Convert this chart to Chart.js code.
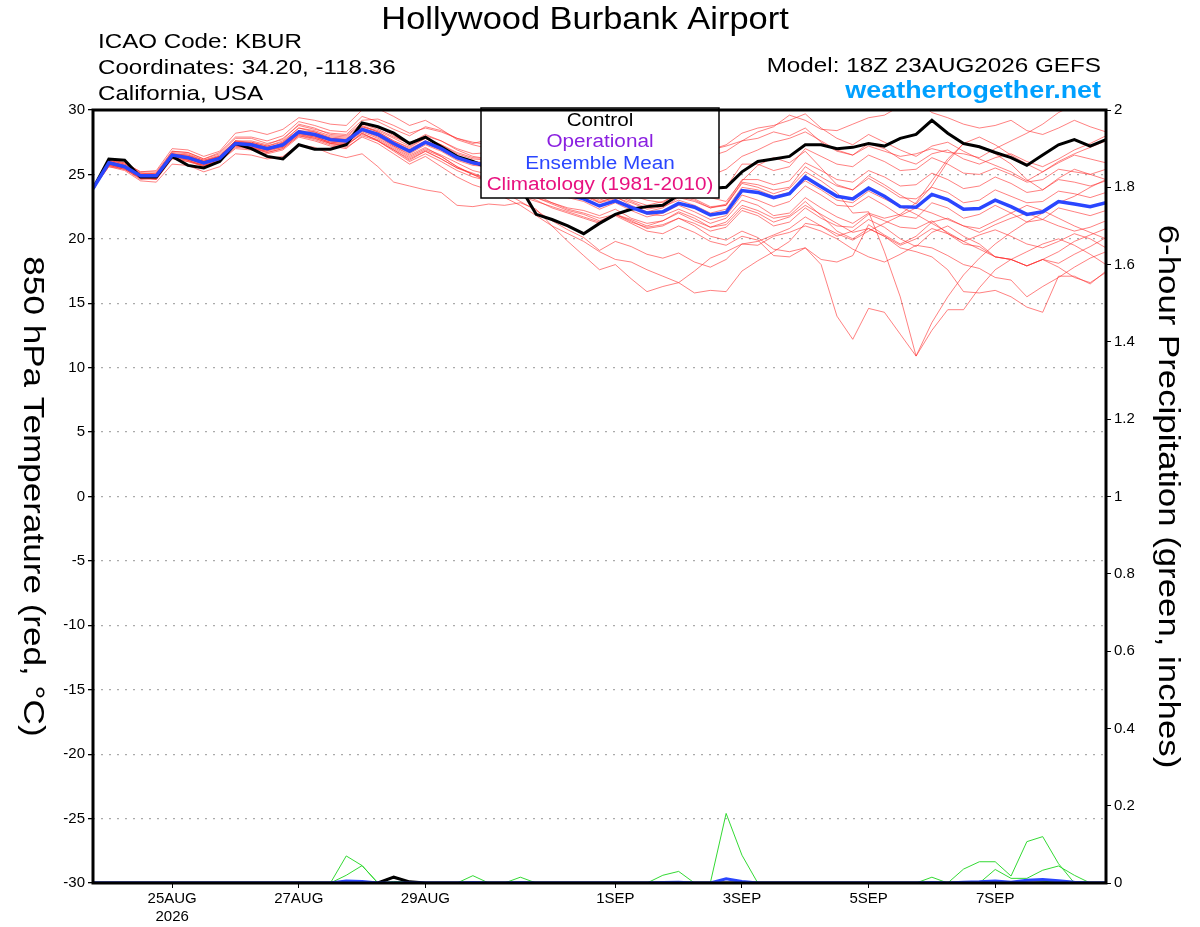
<!DOCTYPE html>
<html>
<head>
<meta charset="utf-8">
<title>Hollywood Burbank Airport - GEFS</title>
<script src="https://cdn.jsdelivr.net/npm/chart.js@4.4.1/dist/chart.umd.min.js"></script>
<style>
  body { margin: 0; background: #fff; }
  canvas { display: block; }
</style>
</head>
<body>
<canvas id="gefsChart" width="1200" height="927"></canvas>
<script>
// forecast hours from 18Z 23AUG2026
const fcstHours = [0, 6, 12, 18, 24, 30, 36, 42, 48, 54, 60, 66, 72, 78, 84, 90, 96, 102, 108, 114,
  120, 126, 132, 138, 144, 150, 156, 162, 168, 174, 180, 186, 192, 198, 204, 210, 216, 222, 228, 234,
  240, 246, 252, 258, 264, 270, 276, 282, 288, 294, 300, 306, 312, 318, 324, 330, 336, 342, 348, 354,
  360, 366, 372, 378, 384];

const tickHours = [30, 78, 126, 198, 246, 294, 342];
const tickLabels = [["25AUG", "2026"], "27AUG", "29AUG", "1SEP", "3SEP", "5SEP", "7SEP"];

// 850 hPa temperature (C)
const controlTemp = [23.9, 26.2, 26.1, 24.8, 24.8, 26.4, 25.7, 25.5, 26.0, 27.4,
  27.0, 26.4, 26.2, 27.3, 26.95, 26.95, 27.3, 29.0, 28.7, 28.2,
  27.4, 27.9, 27.15, 26.4, 26.0, 25.5, 24.8, 24.0, 21.9, 21.5,
  21.0, 20.4, 21.2, 21.9, 22.3, 22.5, 22.6, 23.4, 23.7, 23.9,
  24.0, 25.2, 26.0, 26.2, 26.4, 27.3, 27.3, 27.0, 27.1, 27.4,
  27.2, 27.8, 28.1, 29.2, 28.2, 27.4, 27.15, 26.7, 26.3, 25.7,
  26.5, 27.3, 27.7, 27.2, 27.7];

const meanTemp = [23.9, 25.9, 25.6, 24.9, 24.9, 26.5, 26.3, 25.9, 26.25, 27.4,
  27.3, 27.0, 27.3, 28.3, 28.1, 27.7, 27.6, 28.5, 28.1, 27.4,
  26.8, 27.5, 27.0, 26.3, 25.9, 25.7, 25.1, 24.6, 24.1, 23.7,
  23.4, 23.1, 22.55, 22.95, 22.45, 22.0, 22.1, 22.75, 22.45, 21.85,
  22.05, 23.75, 23.6, 23.2, 23.5, 24.8, 24.05, 23.3, 23.1, 23.95,
  23.3, 22.5, 22.45, 23.45, 23.05, 22.3, 22.35, 23.0, 22.5, 21.9,
  22.1, 22.9, 22.7, 22.5, 22.8];

const mem01 = [23.9, 25.7, 25.4, 24.6, 24.7, 26.6, 26.1, 25.6, 26.1, 27.5,
  27.1, 26.8, 27.5, 28.4, 28.0, 27.4, 27.2, 28.2, 27.6, 26.9,
  26.1, 26.8, 26.2, 25.5, 25.1, 24.6, 24.0, 23.5, 23.0, 22.4,
  22.0, 21.6, 21.2, 21.8, 21.2, 20.6, 20.4, 21.0, 20.5, 19.8,
  19.5, 20.2, 19.9, 18.7, 18.6, 19.3, 18.0, 14.0, 12.2, 14.6,
  14.3, 12.6, 10.9, 12.9, 14.5, 14.5, 16.2, 17.6, 18.4, 19.0,
  19.6, 20.0, 19.5, 18.8, 18.0];
const mem02 = [23.9, 26.1, 25.8, 25.1, 25.0, 26.8, 26.7, 26.2, 26.6, 27.8,
  27.8, 27.4, 27.7, 28.9, 28.6, 28.1, 28.0, 29.0, 28.7, 28.0,
  27.4, 28.1, 27.6, 26.9, 26.4, 26.2, 25.9, 25.2, 24.7, 24.3,
  24.0, 23.8, 23.2, 23.6, 23.0, 22.6, 22.9, 23.5, 23.1, 22.5,
  22.6, 24.3, 24.0, 23.5, 23.9, 25.2, 24.5, 23.6, 22.0, 22.1,
  19.0, 15.5, 10.9, 13.5, 15.5, 17.2, 18.5, 19.6, 20.5, 21.3,
  22.0, 22.8, 23.3, 24.0, 24.6];
const mem03 = [23.9, 25.6, 25.3, 24.5, 24.4, 25.8, 25.7, 25.2, 25.6, 26.6,
  26.5, 26.2, 26.4, 27.3, 27.1, 26.6, 26.3, 26.6, 25.6, 24.4,
  24.1, 23.8, 23.6, 22.6, 22.5, 22.7, 22.6, 22.8, 22.3, 21.0,
  19.8, 18.7, 17.6, 18.0, 16.9, 15.9, 16.3, 16.6, 17.5, 18.5,
  19.0, 19.6, 19.5, 20.2, 20.5, 21.0, 20.6, 20.0, 19.2, 18.6,
  18.2, 18.8, 19.5, 19.3, 18.7, 18.0, 17.7, 17.0, 16.8, 15.5,
  16.3, 17.0, 17.8, 18.5, 19.0];
const mem04 = [23.9, 25.8, 25.5, 24.8, 24.6, 26.3, 26.0, 25.7, 26.0, 27.1,
  27.0, 26.7, 27.0, 28.0, 27.7, 27.3, 27.1, 27.9, 27.4, 26.6,
  25.8, 26.4, 25.6, 24.8, 24.2, 23.8, 23.2, 22.6, 21.8, 21.0,
  20.4, 19.8, 19.0, 18.4, 18.2, 17.6, 17.1, 16.6, 15.8, 16.0,
  15.9, 17.5, 18.3, 19.0, 19.8, 21.2, 21.0, 20.2, 20.6, 21.5,
  20.9, 20.0, 19.4, 20.5, 21.0, 20.2, 19.6, 18.6, 18.4, 17.9,
  18.4, 17.8, 17.0, 16.6, 17.4];
const mem05 = [23.9, 26.0, 25.7, 25.0, 25.1, 26.7, 26.6, 26.1, 26.5, 27.6,
  27.6, 27.3, 27.8, 28.8, 28.5, 28.2, 28.1, 29.2, 29.3, 28.8,
  28.2, 28.6, 28.3, 27.8, 27.4, 27.7, 27.5, 27.0, 26.8, 26.3,
  26.0, 25.7, 25.4, 25.8, 25.5, 25.2, 25.6, 26.2, 26.7, 26.9,
  27.2, 27.6, 28.3, 28.7, 29.6, 29.2, 28.5, 28.4, 28.9, 29.4,
  29.6, 30.3, 30.8, 29.8, 29.4, 28.9, 28.6, 28.8, 29.2, 28.4,
  28.1, 28.6, 29.2, 28.7, 28.3];
const mem06 = [23.9, 25.9, 25.6, 24.9, 25.0, 26.4, 26.3, 26.0, 26.3, 27.3,
  27.5, 27.2, 27.5, 28.6, 28.4, 28.0, 27.9, 28.9, 28.5, 27.9,
  27.4, 28.0, 27.6, 27.0, 26.6, 26.7, 26.4, 26.0, 25.6, 25.4,
  25.0, 24.8, 24.2, 24.6, 24.4, 24.1, 24.5, 25.6, 26.0, 26.4,
  26.8, 27.6, 27.8, 28.3, 28.0, 28.6, 27.5, 26.8, 26.5, 27.2,
  26.8, 26.4, 26.6, 27.0, 26.7, 26.6, 26.3, 27.0, 27.6, 28.2,
  28.9, 29.8, 30.4, 30.8, 31.0];
const mem07 = [23.9, 26.2, 25.9, 25.2, 25.3, 27.0, 26.9, 26.4, 26.8, 28.2,
  28.4, 28.1, 28.5, 29.4, 29.2, 28.9, 28.8, 30.0, 30.1, 29.5,
  28.8, 29.2, 28.5, 27.7, 27.3, 27.0, 26.6, 26.0, 25.3, 24.9,
  24.6, 24.2, 23.7, 24.1, 23.4, 23.0, 22.8, 23.6, 23.9, 23.2,
  22.9, 24.5, 25.7, 26.3, 25.9, 26.8, 25.5, 24.2, 23.8, 24.9,
  24.2, 23.4, 22.7, 24.1, 26.0, 27.4, 27.2, 26.6, 25.8, 24.6,
  23.8, 24.7, 25.4, 25.0, 24.6];
const mem08 = [23.9, 25.8, 25.5, 24.8, 24.9, 26.5, 26.2, 25.8, 26.2, 27.3,
  27.2, 26.9, 27.2, 28.2, 27.9, 27.5, 27.4, 28.3, 27.8, 27.1,
  26.4, 27.0, 26.5, 25.9, 25.3, 25.0, 24.6, 24.0, 23.4, 22.8,
  22.3, 22.0, 21.6, 21.9, 21.3, 20.9, 21.1, 21.6, 21.0, 20.2,
  19.9, 20.6, 20.1, 19.2, 19.0, 19.3, 18.4, 18.2, 18.7, 21.1,
  20.3, 19.6, 20.2, 21.3, 21.6, 21.0, 20.5, 21.1, 21.6, 22.0,
  21.5, 21.0, 20.6, 20.9, 21.4];
const mem09 = [23.9, 25.6, 25.4, 24.7, 24.6, 26.2, 26.0, 25.6, 26.0, 27.0,
  26.9, 26.6, 26.9, 27.9, 27.6, 27.2, 27.0, 28.0, 27.6, 26.8,
  26.0, 26.6, 26.0, 25.3, 24.8, 24.5, 24.0, 23.6, 23.2, 22.8,
  22.4, 22.2, 21.8, 22.3, 21.6, 21.2, 21.4, 22.1, 21.6, 20.9,
  21.1, 22.4, 22.0, 21.3, 21.7, 22.6, 21.9, 21.2, 20.5, 20.8,
  20.2, 19.3, 19.0, 18.6, 17.6, 15.9, 15.8, 16.0, 15.5, 14.7,
  14.3, 17.1, 17.1, 16.5, 17.5];
const mem10 = [23.9, 26.0, 25.7, 25.0, 24.9, 26.4, 26.4, 26.0, 26.4, 27.5,
  27.4, 27.1, 27.4, 28.4, 28.3, 27.8, 27.7, 28.6, 28.2, 27.5,
  26.9, 27.6, 27.1, 26.4, 26.0, 25.8, 25.4, 24.9, 24.4, 24.0,
  23.7, 23.4, 22.9, 23.2, 22.8, 22.3, 22.5, 23.0, 22.6, 22.0,
  22.3, 24.0, 23.8, 23.3, 23.6, 24.5, 23.8, 23.0, 22.8, 23.7,
  23.1, 22.5, 21.9, 21.2, 20.5, 19.8, 19.2, 18.6, 18.4, 17.9,
  18.4, 19.0, 19.8, 20.3, 20.8];
const mem11 = [23.9, 25.9, 25.6, 25.0, 24.8, 26.6, 26.4, 26.0, 26.4, 27.6,
  27.4, 27.1, 27.2, 28.2, 28.0, 27.7, 27.6, 28.6, 28.0, 27.2,
  26.6, 27.3, 26.8, 26.1, 25.7, 25.6, 25.1, 24.6, 24.3, 23.9,
  23.6, 23.3, 22.8, 23.3, 22.6, 22.1, 22.4, 23.2, 22.9, 22.4,
  22.6, 24.4, 24.2, 23.8, 24.0, 25.6, 24.8, 24.1, 23.8, 24.7,
  24.0, 23.2, 23.1, 24.0, 23.6, 22.8, 23.0, 23.8, 23.3, 22.8,
  22.9, 23.7, 23.5, 23.2, 23.6];
const mem12 = [23.9, 26.1, 25.8, 25.1, 25.1, 26.6, 26.5, 26.1, 26.4, 27.6,
  27.5, 27.2, 27.6, 28.6, 28.3, 27.9, 27.8, 28.7, 28.4, 27.8,
  27.2, 27.8, 27.3, 26.6, 26.2, 26.1, 25.8, 25.4, 25.0, 24.7,
  24.3, 24.1, 23.6, 24.0, 23.6, 23.2, 23.5, 24.2, 24.6, 24.9,
  25.4, 26.4, 26.9, 27.5, 27.8, 28.3, 27.6, 26.9, 26.5, 27.4,
  27.0, 26.2, 25.8, 26.6, 26.9, 26.2, 25.8, 26.3, 26.6, 26.0,
  25.6, 26.2, 26.9, 27.4, 28.0];
const mem13 = [23.9, 25.7, 25.4, 24.7, 24.8, 26.3, 26.1, 25.7, 26.1, 27.2,
  27.1, 26.7, 27.0, 28.0, 27.8, 27.4, 27.3, 28.1, 27.7, 27.0,
  26.3, 26.9, 26.4, 25.6, 25.0, 24.5, 23.9, 23.3, 22.9, 22.5,
  22.1, 21.7, 21.3, 21.9, 21.5, 21.0, 21.4, 22.0, 21.4, 20.9,
  21.3, 22.6, 22.2, 21.6, 21.8, 22.9, 21.8, 20.6, 20.0, 20.8,
  20.2, 19.5, 20.0, 20.8, 20.4, 19.8, 20.3, 20.7, 20.2, 19.6,
  19.3, 19.8, 20.4, 20.0, 19.3];
const mem14 = [23.9, 25.8, 25.6, 24.8, 24.7, 26.4, 26.2, 25.8, 26.2, 27.3,
  27.1, 26.9, 27.1, 28.1, 27.9, 27.5, 27.4, 28.4, 27.9, 27.2,
  26.5, 27.1, 26.4, 25.6, 25.0, 24.4, 23.6, 22.9, 22.2, 21.4,
  20.7, 20.1, 19.1, 19.8, 19.4, 18.8, 18.5, 18.9, 18.2, 17.8,
  18.4, 19.6, 19.8, 20.3, 20.8, 21.7, 21.0, 20.4, 19.9, 20.6,
  21.2, 21.8, 22.4, 22.0, 21.5, 21.0, 20.8, 21.4, 22.0, 22.6,
  22.2, 21.6, 21.0, 20.5, 20.0];
const mem15 = [23.9, 26.0, 25.7, 25.0, 25.0, 26.5, 26.4, 26.0, 26.3, 27.5,
  27.4, 27.1, 27.3, 28.3, 28.2, 27.8, 27.7, 28.8, 28.3, 27.6,
  27.0, 27.6, 27.1, 26.4, 25.9, 25.7, 25.3, 24.9, 24.6, 24.2,
  23.9, 23.6, 23.0, 23.4, 22.9, 22.4, 22.6, 23.3, 23.0, 22.4,
  22.7, 24.6, 24.6, 24.2, 24.5, 25.9, 25.3, 24.6, 24.4, 25.3,
  24.8, 24.1, 24.2, 25.1, 24.6, 23.9, 24.1, 24.8, 24.3, 23.6,
  23.8, 24.6, 24.4, 24.1, 24.5];
const mem16 = [23.9, 26.1, 25.9, 25.2, 25.2, 26.8, 26.7, 26.2, 26.7, 27.9,
  27.9, 27.6, 28.0, 29.1, 28.8, 28.4, 28.3, 29.5, 29.1, 28.5,
  28.0, 28.7, 28.4, 27.8, 27.5, 27.3, 26.9, 26.4, 26.0, 25.6,
  25.2, 24.8, 24.3, 24.8, 24.2, 23.8, 24.1, 24.8, 24.4, 23.8,
  24.0, 25.8, 25.8, 25.3, 25.6, 27.0, 26.4, 25.8, 25.6, 26.5,
  26.0, 25.3, 25.4, 26.3, 25.8, 25.1, 25.0, 25.5, 25.0, 24.4,
  24.6, 25.4, 25.2, 25.0, 25.4];
const mem17 = [23.9, 25.9, 25.6, 24.9, 24.9, 26.5, 26.3, 25.9, 26.2, 27.4,
  27.3, 27.0, 27.3, 28.3, 28.1, 27.6, 27.5, 28.5, 28.1, 27.5,
  26.9, 27.5, 27.0, 26.4, 26.0, 25.9, 25.6, 25.2, 24.9, 24.6,
  24.4, 24.2, 23.9, 24.4, 24.6, 24.9, 25.4, 26.3, 26.9, 26.9,
  27.3, 28.2, 28.6, 28.8, 29.2, 29.7, 28.6, 27.8, 27.3, 28.1,
  27.5, 26.9, 26.4, 27.2, 27.5, 26.8, 26.2, 25.7, 25.2, 24.5,
  25.2, 26.0, 26.6, 27.1, 27.6];
const mem18 = [23.9, 25.8, 25.5, 24.8, 24.9, 26.4, 26.2, 25.8, 26.2, 27.3,
  27.2, 26.9, 27.2, 28.2, 28.0, 27.6, 27.5, 28.4, 28.0, 27.3,
  26.7, 27.4, 26.9, 26.2, 25.8, 25.5, 25.0, 24.5, 24.0, 23.6,
  23.2, 22.9, 22.3, 22.8, 22.2, 21.7, 22.0, 22.6, 22.1, 21.5,
  21.8, 23.4, 23.0, 22.5, 22.9, 24.1, 23.4, 22.6, 22.5, 23.3,
  22.6, 21.8, 21.6, 22.8, 22.4, 21.6, 21.9, 22.6, 22.0, 21.3,
  21.5, 22.4, 22.1, 21.8, 22.2];
const mem19 = [23.9, 26.0, 25.7, 25.0, 24.9, 26.6, 26.5, 26.0, 26.4, 27.5,
  27.3, 27.0, 27.4, 28.4, 28.1, 27.8, 27.7, 28.7, 28.3, 27.6,
  27.1, 27.8, 27.3, 26.7, 26.3, 26.2, 25.9, 25.5, 25.0, 24.4,
  23.9, 23.5, 22.8, 23.1, 22.5, 21.9, 21.8, 22.3, 21.8, 21.2,
  21.6, 23.0, 22.6, 21.8, 22.0, 23.2, 22.4, 21.7, 21.2, 22.0,
  21.6, 21.9, 22.8, 24.5, 26.2, 27.4, 27.9, 27.3, 26.5, 25.8,
  25.2, 25.9, 26.5, 26.2, 25.9];
const mem20 = [23.9, 25.7, 25.5, 24.7, 24.7, 26.4, 26.1, 25.7, 26.1, 27.2,
  27.0, 26.8, 27.1, 28.1, 27.8, 27.4, 27.3, 28.2, 27.6, 26.9,
  26.2, 26.8, 26.2, 25.5, 25.0, 24.7, 24.2, 23.7, 23.2, 22.7,
  22.2, 21.9, 21.4, 21.9, 21.4, 20.8, 21.0, 21.6, 21.2, 20.6,
  20.9, 22.2, 21.8, 21.0, 21.3, 22.4, 21.6, 21.0, 20.9, 21.9,
  21.4, 20.9, 20.8, 21.4, 20.4, 19.6, 19.4, 18.6, 18.4, 17.9,
  18.4, 18.1, 18.8, 19.4, 20.1];

const memberTemps = [mem01, mem02, mem03, mem04, mem05, mem06, mem07, mem08, mem09, mem10,
  mem11, mem12, mem13, mem14, mem15, mem16, mem17, mem18, mem19, mem20];

// 6-hour precipitation (inches)
const controlPrecip = [0, 0, 0, 0, 0, 0, 0, 0, 0, 0,
  0, 0, 0, 0, 0, 0, 0, 0, 0, 0.015,
  0.003, 0, 0, 0, 0, 0, 0, 0, 0, 0,
  0, 0, 0, 0, 0, 0, 0, 0, 0, 0,
  0, 0, 0, 0, 0, 0, 0, 0, 0, 0,
  0, 0, 0, 0, 0, 0, 0, 0, 0, 0,
  0, 0, 0, 0, 0];
const meanPrecip = [0, 0, 0, 0, 0, 0, 0, 0, 0, 0,
  0, 0, 0, 0, 0, 0, 0.005, 0.004, 0, 0,
  0, 0, 0, 0, 0.001, 0, 0, 0.001, 0, 0,
  0, 0, 0, 0, 0, 0, 0.001, 0.002, 0, 0,
  0.011, 0.004, 0, 0, 0, 0, 0, 0, 0, 0,
  0, 0, 0, 0.001, 0, 0.002, 0.003, 0.005, 0.002, 0.007,
  0.009, 0.006, 0.002, 0, 0];
const pcp01 = [0, 0, 0, 0, 0, 0, 0, 0, 0, 0,
  0, 0, 0, 0, 0, 0, 0.07, 0.045, 0, 0,
  0, 0, 0, 0, 0, 0, 0, 0, 0, 0,
  0, 0, 0, 0, 0, 0, 0, 0, 0, 0,
  0, 0, 0, 0, 0, 0, 0, 0, 0, 0,
  0, 0, 0, 0, 0, 0, 0, 0, 0, 0,
  0, 0, 0, 0, 0];
const pcp02 = [0, 0, 0, 0, 0, 0, 0, 0, 0, 0,
  0, 0, 0, 0, 0, 0, 0.02, 0.045, 0, 0.004,
  0.003, 0, 0, 0, 0.019, 0, 0, 0.015, 0, 0,
  0, 0, 0, 0, 0, 0, 0, 0, 0, 0,
  0, 0, 0, 0, 0, 0, 0, 0, 0, 0,
  0, 0, 0, 0, 0, 0, 0, 0, 0, 0,
  0, 0, 0, 0, 0];
const pcp03 = [0, 0, 0, 0, 0, 0, 0, 0, 0, 0,
  0, 0, 0, 0, 0, 0, 0, 0, 0, 0,
  0, 0, 0, 0, 0, 0, 0, 0, 0, 0,
  0, 0, 0, 0, 0, 0, 0.02, 0.03, 0, 0,
  0.18, 0.072, 0, 0, 0, 0, 0, 0, 0, 0,
  0, 0, 0, 0, 0, 0, 0, 0, 0, 0,
  0, 0, 0, 0, 0];
const pcp04 = [0, 0, 0, 0, 0, 0, 0, 0, 0, 0,
  0, 0, 0, 0, 0, 0, 0, 0, 0, 0,
  0, 0, 0, 0, 0, 0, 0, 0, 0, 0,
  0, 0, 0, 0, 0, 0, 0, 0, 0, 0,
  0, 0, 0, 0, 0, 0, 0, 0, 0, 0,
  0, 0, 0, 0, 0, 0.036, 0.055, 0.055, 0.018, 0.107,
  0.12, 0.05, 0, 0, 0];
const pcp05 = [0, 0, 0, 0, 0, 0, 0, 0, 0, 0,
  0, 0, 0, 0, 0, 0, 0, 0, 0, 0,
  0, 0, 0, 0, 0, 0, 0, 0, 0, 0,
  0, 0, 0, 0, 0, 0, 0, 0, 0, 0,
  0, 0, 0, 0, 0, 0, 0, 0, 0, 0,
  0, 0, 0, 0.015, 0, 0, 0, 0.035, 0.012, 0.012,
  0.033, 0.044, 0.02, 0, 0];
const pcp06 = [0, 0, 0, 0, 0, 0, 0, 0, 0, 0,
  0, 0, 0, 0, 0, 0, 0, 0, 0, 0,
  0, 0, 0, 0, 0, 0, 0, 0, 0, 0,
  0, 0, 0, 0, 0, 0, 0, 0, 0, 0,
  0, 0, 0, 0, 0, 0, 0, 0, 0, 0,
  0, 0, 0, 0, 0, 0, 0, 0, 0, 0,
  0.003, 0.006, 0.003, 0, 0];

const memberPrecips = [pcp01, pcp02, pcp03, pcp04, pcp05, pcp06];

const FONT = '"Liberation Sans", Arial, Helvetica, sans-serif';

function pts(vals) {
    return vals.map((v, k) => ({ x: fcstHours[k], y: v }));
}

const datasets = [];
datasets.push({ label: "Ensemble Mean", data: pts(meanTemp), yAxisID: "y", borderColor: "#2a46ff", borderWidth: 3.5, order: 0 });
datasets.push({ label: "Control", data: pts(controlTemp), yAxisID: "y", borderColor: "#000", borderWidth: 3, order: 1 });
datasets.push({ label: "Mean precip", data: pts(meanPrecip), yAxisID: "y2", borderColor: "#2a46ff", borderWidth: 3, order: 2 });
datasets.push({ label: "Control precip", data: pts(controlPrecip), yAxisID: "y2", borderColor: "#000", borderWidth: 3, order: 3 });
memberTemps.forEach((m, k) => {
    datasets.push({ label: "Member " + (k + 1), data: pts(m), yAxisID: "y", borderColor: "rgba(255, 45, 45, 0.6)", borderWidth: 1, order: 6 });
});
memberPrecips.forEach((m, k) => {
    datasets.push({ label: "Member precip " + (k + 1), data: pts(m), yAxisID: "y2", borderColor: "rgba(40, 215, 40, 0.95)", borderWidth: 1, order: 5 });
});

// text drawn a bit wider than the font, like the original plot
function wideText(ctx, text, x, y, sx, align) {
    ctx.save();
    ctx.translate(x, y);
    ctx.scale(sx, 1);
    ctx.textAlign = align;
    ctx.fillText(text, 0, 0);
    ctx.restore();
}

// titles, legend box and frame
const decor = {
    id: "decor",
    afterDatasetsDraw(chart) {
        const { ctx, chartArea: a } = chart;
        ctx.save();
        const bx = a.left + 388, by = a.top - 2, bw = 238, bh = 90;
        ctx.fillStyle = "#fff";
        ctx.fillRect(bx, by, bw, bh);
        ctx.lineWidth = 1.5;
        ctx.strokeStyle = "#000";
        ctx.strokeRect(bx, by, bw, bh);
        ctx.font = "18px " + FONT;
        ctx.textBaseline = "middle";
        const items = [["Control", "#000"], ["Operational", "#8a1fe0"], ["Ensemble Mean", "#2a46ff"], ["Climatology (1981-2010)", "#e8117f"]];
        items.forEach((it, k) => {
            ctx.fillStyle = it[1];
            wideText(ctx, it[0], bx + bw / 2, by + 13 + k * 21.5, 1.15, "center");
        });
        ctx.lineWidth = 3;
        ctx.strokeRect(a.left, a.top, a.right - a.left, a.bottom - a.top);
        ctx.restore();
    },
    afterDraw(chart) {
        const { ctx, chartArea: a } = chart;
        ctx.save();
        ctx.fillStyle = "#000";
        ctx.textBaseline = "alphabetic";
        ctx.font = "31px " + FONT;
        wideText(ctx, "Hollywood Burbank Airport", 585, 29, 1.11, "center");
        ctx.font = "21px " + FONT;
        wideText(ctx, "ICAO Code: KBUR", 98, 48, 1.15, "left");
        wideText(ctx, "Coordinates: 34.20, -118.36", 98, 74, 1.15, "left");
        wideText(ctx, "California, USA", 98, 100, 1.15, "left");
        wideText(ctx, "Model: 18Z 23AUG2026 GEFS", 1101, 72, 1.155, "right");
        ctx.fillStyle = "#00a0ff";
        ctx.font = "bold 23px " + FONT;
        wideText(ctx, "weathertogether.net", 1101, 98, 1.17, "right");
        ctx.restore();

        ctx.save();
        ctx.fillStyle = "#000";
        ctx.textBaseline = "middle";
        ctx.font = "30px " + FONT;
        ctx.translate(32, (a.top + a.bottom) / 2);
        ctx.rotate(Math.PI / 2);
        wideText(ctx, "850 hPa Temperature (red, \u00B0C)", 0, 0, 1.17, "center");
        ctx.restore();

        ctx.save();
        ctx.fillStyle = "#000";
        ctx.textBaseline = "middle";
        ctx.font = "29px " + FONT;
        ctx.translate(1167, (a.top + a.bottom) / 2);
        ctx.rotate(Math.PI / 2);
        wideText(ctx, "6-hour Precipitation (green, inches)", 0, 0, 1.2, "center");
        ctx.restore();
    }
};

const tickFont = { family: FONT, size: 15 };

new Chart(document.getElementById("gefsChart"), {
    type: "line",
    data: { datasets: datasets },
    options: {
        responsive: false,
        animation: false,
        devicePixelRatio: 1,
        layout: { padding: { top: 110, left: 0, right: 0, bottom: 0 } },
        elements: { point: { radius: 0 }, line: { tension: 0, fill: false } },
        plugins: { legend: { display: false }, tooltip: { enabled: false } },
        scales: {
            x: {
                type: "linear",
                min: 0,
                max: 384,
                afterBuildTicks(scale) {
                    scale.ticks = tickHours.map(h => ({ value: h }));
                },
                afterFit(scale) { scale.height = 44; },
                grid: { drawOnChartArea: false, drawTicks: true, tickLength: 5, tickColor: "#000" },
                border: { display: false },
                ticks: {
                    color: "#000",
                    font: tickFont,
                    padding: 2,
                    maxRotation: 0,
                    autoSkip: false,
                    callback: v => tickLabels[tickHours.indexOf(v)]
                }
            },
            y: {
                position: "left",
                min: -30,
                max: 30,
                afterFit(scale) { scale.width = 93; },
                grid: { color: "#aaa", lineWidth: 1.3, tickColor: "#000", tickLength: 5 },
                border: { display: false, dash: [2, 6] },
                ticks: { stepSize: 5, color: "#000", font: tickFont, padding: 3 }
            },
            y2: {
                position: "right",
                min: 0,
                max: 2,
                afterFit(scale) { scale.width = 94; },
                grid: { drawOnChartArea: false, tickColor: "#000", tickLength: 5 },
                border: { display: false },
                ticks: {
                    stepSize: 0.2,
                    color: "#000",
                    font: tickFont,
                    padding: 3,
                    callback: v => String(Math.round(v * 10) / 10)
                }
            }
        }
    },
    plugins: [decor]
});
</script>
</body>
</html>
